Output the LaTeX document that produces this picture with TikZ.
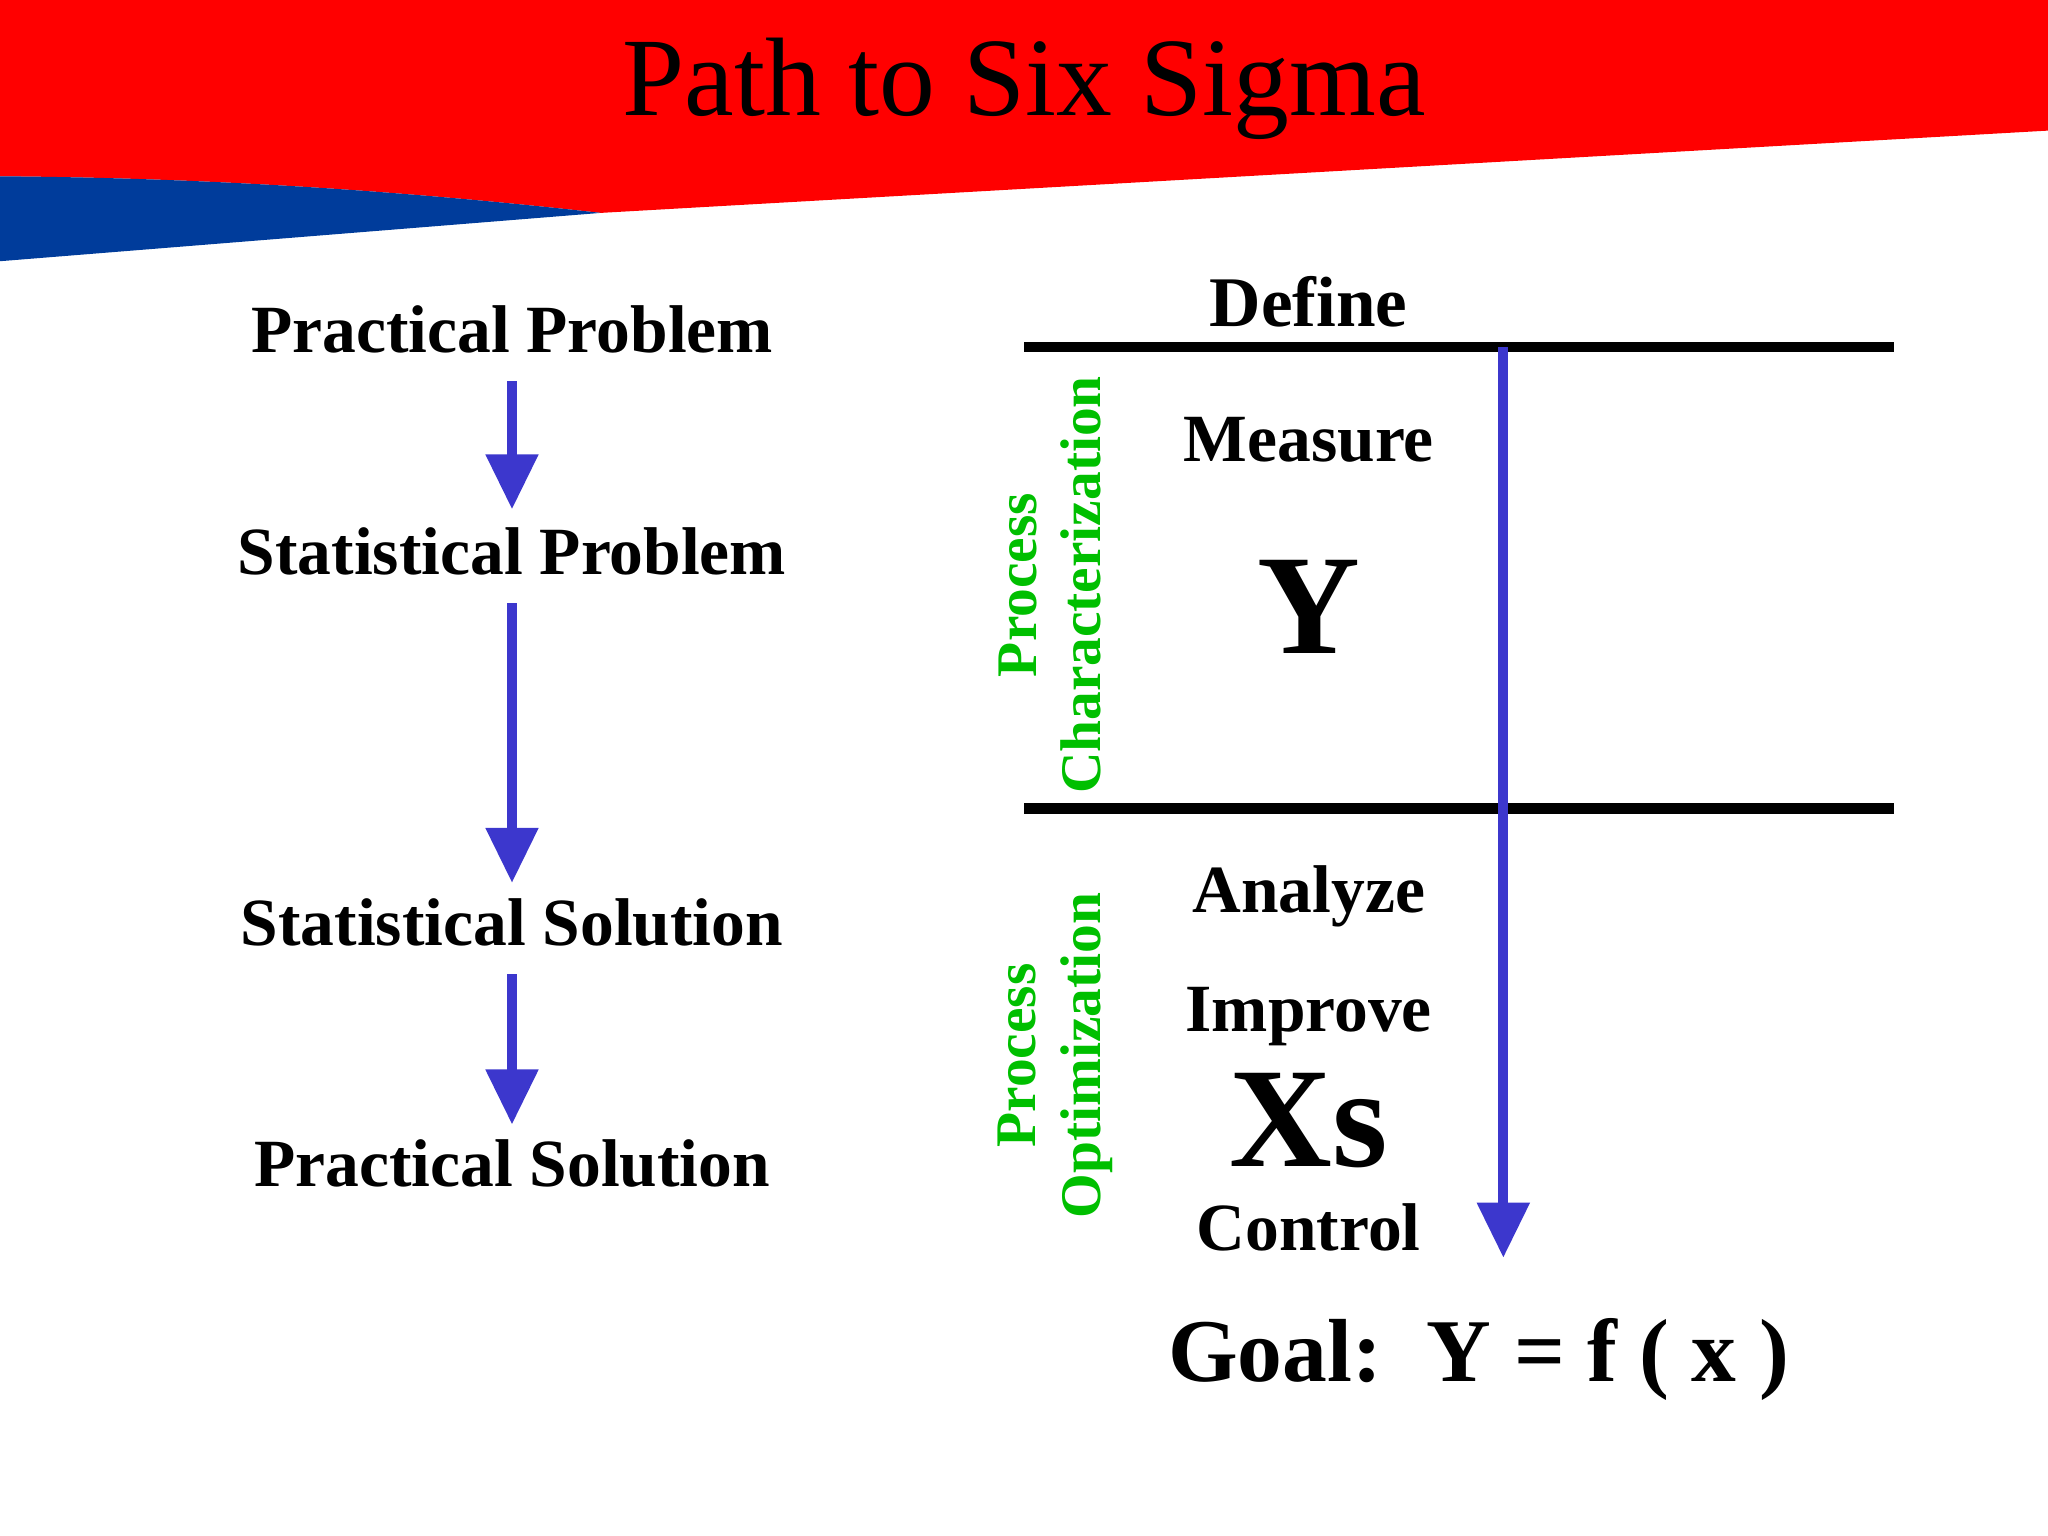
\documentclass[tikz,border=0pt]{standalone}
\usepackage{fontspec}
\setmainfont{Liberation Serif}
\usetikzlibrary{arrows.meta}
\definecolor{arrblue}{RGB}{60,55,205}
\definecolor{banblue}{RGB}{0,60,155}
\begin{document}
\begin{tikzpicture}[x=0.01cm,y=-0.01cm,
  lbl/.style={font=\bfseries\fontsize{14.7}{17}\selectfont},
  grn/.style={font=\bfseries\fontsize{12.5}{14}\selectfont,text=green!75!black,rotate=90,align=center},
  arr/.style={draw=arrblue,line width=2.2pt,-{Triangle[width=11pt,length=12pt]}}]
\useasboundingbox (0,0) rectangle (1568,1176);
\fill[red] (0,0) -- (1568,0) -- (1568,100) -- (460,163) .. controls (300,145) and (150,136) .. (0,135) -- cycle;
\fill[banblue] (0,135) .. controls (150,136) and (300,145) .. (460,163) -- (0,200) -- cycle;
\node[font=\fontsize{24.3}{28}\selectfont] (title) at (784,68) {Path to Six Sigma};
% left column
\node[lbl] (pp) at (392,252) {Practical Problem};
\node[lbl] (sp) at (392,422) {Statistical Problem};
\node[lbl] (ss) at (392,706) {Statistical Solution};
\node[lbl] (ps) at (392,891) {Practical Solution};
\coordinate (a1) at (392,292); \coordinate (b1) at (392,390);
\coordinate (a2) at (392,462); \coordinate (b2) at (392,676);
\coordinate (a3) at (392,746); \coordinate (b3) at (392,861);
\draw[arr] (a1) -- (b1);
\draw[arr] (a2) -- (b2);
\draw[arr] (a3) -- (b3);
% right
\node[font=\bfseries\fontsize{15.5}{18}\selectfont] (def) at (1002,231) {Define};
\coordinate (l1a) at (784,266); \coordinate (l1b) at (1450,266);
\coordinate (l2a) at (784,619); \coordinate (l2b) at (1450,619);
\draw[line width=2.2pt] (l1a) -- (l1b);
\draw[line width=2.2pt] (l2a) -- (l2b);
\coordinate (v1) at (1151,266); \coordinate (v2) at (1151,963);
\draw[arr] (v1) -- (v2);
\node[lbl] (meas) at (1002,337) {Measure};
\node[font=\bfseries\fontsize{31}{34}\selectfont] (Y) at (1002,465) {Y};
\node[lbl] (an) at (1002,686) {Analyze};
\node[lbl] (im) at (1002,778) {Improve};
\node[font=\bfseries\fontsize{31}{34}\selectfont] (Xs) at (1002,858) {Xs};
\node[lbl] (co) at (1002,940) {Control};
\node[grn] (pc) at (804,448) {Process\\Characterization};
\node[grn] (po) at (808,808) {Process\\Optimization};
\node[font=\bfseries\fontsize{19.5}{22}\selectfont] (goal) at (1132,1041) {Goal:\ \ Y = f ( x )};
\end{tikzpicture}
\end{document}
